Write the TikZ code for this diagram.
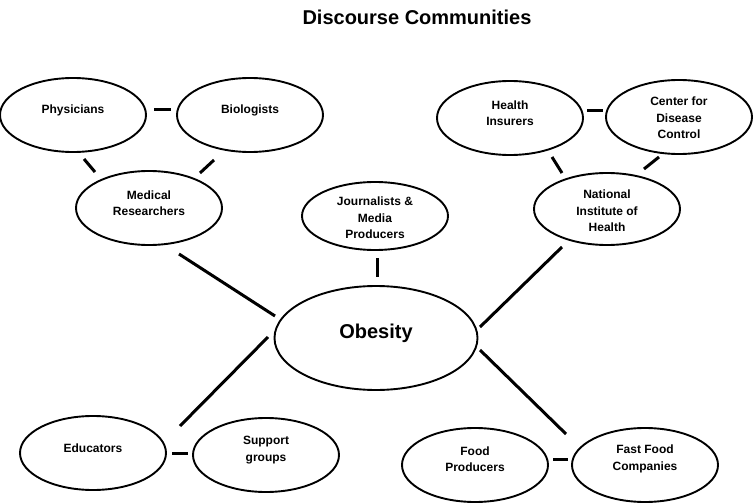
\documentclass[tikz,border=0pt]{standalone}
\usepackage{fontspec}
\setmainfont{Liberation Sans}
\usetikzlibrary{shapes.geometric,calc}
\begin{document}
\begin{tikzpicture}[x=1pt,y=-1pt,
  ell/.style={draw=black,line width=1.9pt,ellipse,minimum width=146pt,minimum height=74pt,inner sep=0pt},
  bigell/.style={ell,minimum width=203pt,minimum height=104pt},
  lbl/.style={align=center,inner sep=0pt,font=\fontsize{12}{16.5}\selectfont\bfseries},
  conn/.style={line width=3pt,black}]
\fill[white] (0,0) rectangle (753,503);
\useasboundingbox (0,0) rectangle (753,503);
\node[font=\fontsize{20}{24}\selectfont\bfseries] (title) at (417,17) {Discourse Communities};
% ellipses
\node[ell] (phys) at (73,115) {};
\node[ell] (bio) at (250,115) {};
\node[ell] (medres) at (149,208) {};
\node[ell,minimum height=68pt] (journ) at (375,216) {};
\node[ell] (hins) at (510,118) {};
\node[ell] (cdc) at (679,117) {};
\node[ell,minimum height=72pt] (nih) at (607,209) {};
\node[bigell] (obes) at (376,338) {};
\node[ell] (educ) at (93,453) {};
\node[ell] (supp) at (266,455) {};
\node[ell] (foodp) at (475,465) {};
\node[ell] (fastf) at (645,465) {};
% labels
\node[lbl] at ($(phys)+(0,-5)$) {Physicians};
\node[lbl] at ($(bio)+(0,-5)$) {Biologists};
\node[lbl] at ($(medres)+(0,-5)$) {Medical\\Researchers};
\node[lbl] at ($(journ)+(0,2)$) {Journalists \&\\Media\\Producers};
\node[lbl] at ($(hins)+(0,-5)$) {Health\\Insurers};
\node[lbl] at ($(cdc)+(0,1)$) {Center for\\Disease\\Control};
\node[lbl] at ($(nih)+(0,2)$) {National\\Institute of\\Health};
\node[lbl,font=\fontsize{20}{24}\selectfont\bfseries] at ($(obes)+(0,-5)$) {Obesity};
\node[lbl] at ($(educ)+(0,-5)$) {Educators};
\node[lbl] at ($(supp)+(0,-5)$) {Support\\groups};
\node[lbl] at ($(foodp)+(0,-6)$) {Food\\Producers};
\node[lbl] at ($(fastf)+(0,-6)$) {Fast Food\\Companies};
% connectors
\draw[conn] ($(phys)+(81,-5)$) -- ($(bio)+(-79,-5)$);
\draw[conn] ($(phys)+(11,44)$) -- ($(medres)+(-54,-36)$);
\draw[conn] ($(bio)+(-36,45)$) -- ($(medres)+(51,-35)$);
\draw[conn] ($(medres)+(30,46)$) -- ($(obes)+(-101,-22)$);
\draw[conn] ($(journ)+(2,42)$) -- ($(obes)+(1,-61)$);
\draw[conn] ($(hins)+(77,-7)$) -- ($(cdc)+(-76,-6)$);
\draw[conn] ($(hins)+(42,39)$) -- ($(nih)+(-45,-36)$);
\draw[conn] ($(cdc)+(-20,40)$) -- ($(nih)+(37,-40)$);
\draw[conn] ($(nih)+(-45,38)$) -- ($(obes)+(104,-11)$);
\draw[conn] ($(obes)+(-108,-1)$) -- ($(educ)+(87,-27)$);
\draw[conn] ($(educ)+(79,0)$) -- ($(supp)+(-78,-2)$);
\draw[conn] ($(obes)+(104,12)$) -- ($(fastf)+(-79,-31)$);
\draw[conn] ($(foodp)+(78,-6)$) -- ($(fastf)+(-77,-6)$);
\end{tikzpicture}
\end{document}
